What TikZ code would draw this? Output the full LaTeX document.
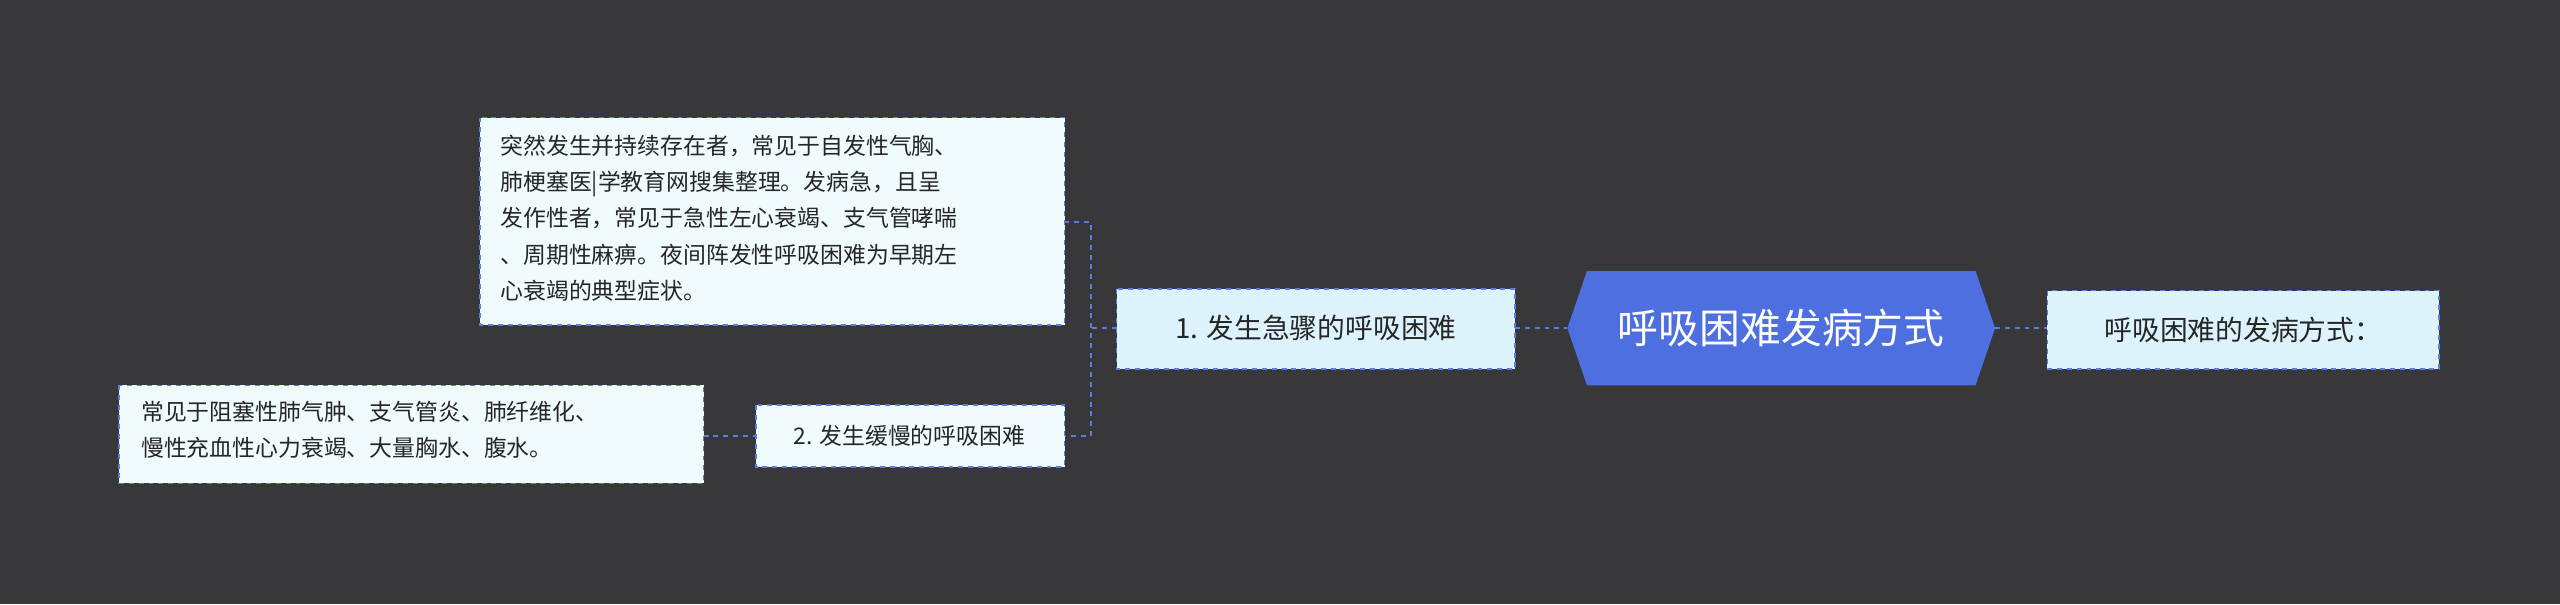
\documentclass[tikz,border=0pt]{standalone}
\usepackage{fontspec}
\setmainfont{Noto Sans CJK SC}
\begin{document}
\begin{tikzpicture}[x=1pt,y=-1pt]
\definecolor{bg}{HTML}{38373A}
\definecolor{main}{HTML}{4E6FE0}
\definecolor{lb}{HTML}{DDF3FC}
\definecolor{lw}{HTML}{F0FBFD}
\definecolor{ln}{HTML}{5B7BE6}
\tikzset{box/.style={draw=ln,dashed,line width=0.9pt,inner sep=0pt},
 conn/.style={draw=ln,dashed,line width=1.2pt}}
\fill[bg] (0,0) rectangle (1568,370);
\useasboundingbox (0,0) rectangle (1568,370);
% center
\fill[main] (960,201)--(972,166)--(1210,166)--(1222,201)--(1210,236)--(972,236)--cycle;
\node[text=white,font=\fontsize{25}{30}\selectfont] (c) at (1091,201) {呼吸困难发病方式};
\coordinate (cl) at (960,201); \coordinate (cr) at (1222,201);
% right
\draw[box,fill=lb] (1254,178) rectangle (1494,226);
\node[font=\fontsize{17}{20}\selectfont,text=black!85] (r) at (1374,202) {呼吸困难的发病方式：};
\coordinate (rl) at (1254,201);
% node1
\draw[box,fill=lb] (684,177) rectangle (928,226);
\node[font=\fontsize{17}{20}\selectfont,text=black!85] (n1) at (806,201) {1. 发生急骤的呼吸困难};
\coordinate (n1r) at (928,201); \coordinate (n1l) at (684,201);
% node2
\draw[box,fill=lw] (463,248) rectangle (652,286);
\node[font=\fontsize{14}{17}\selectfont,text=black!85] (n2) at (557,267) {2. 发生缓慢的呼吸困难};
\coordinate (n2r) at (652,267); \coordinate (n2l) at (463,267);
% box A
\draw[box,fill=lw] (294,72) rectangle (652,199);
\node[font=\fontsize{14}{22.3}\selectfont,text=black!85,align=left,anchor=north west] (a) at (303,79) {突然发生并持续存在者，常见于自发性气胸、\\肺梗塞医|学教育网搜集整理。发病急，且呈\\发作性者，常见于急性左心衰竭、支气管哮喘\\、周期性麻痹。夜间阵发性呼吸困难为早期左\\心衰竭的典型症状。};
\coordinate (ar) at (652,136);
% box B
\draw[box,fill=lw] (73,236) rectangle (431,296);
\node[font=\fontsize{14}{22.3}\selectfont,text=black!85,align=left,anchor=north west] (b) at (83,242) {常见于阻塞性肺气肿、支气管炎、肺纤维化、\\慢性充血性心力衰竭、大量胸水、腹水。};
\coordinate (br) at (431,267);
% connectors
\draw[conn] (cr)--(rl);
\draw[conn] (n1r)--(cl);
\draw[conn] (n1l)--(668,201);
\draw[conn] (ar)--(668,136)--(668,267)--(n2r);
\draw[conn] (br)--(n2l);
\end{tikzpicture}
\end{document}
